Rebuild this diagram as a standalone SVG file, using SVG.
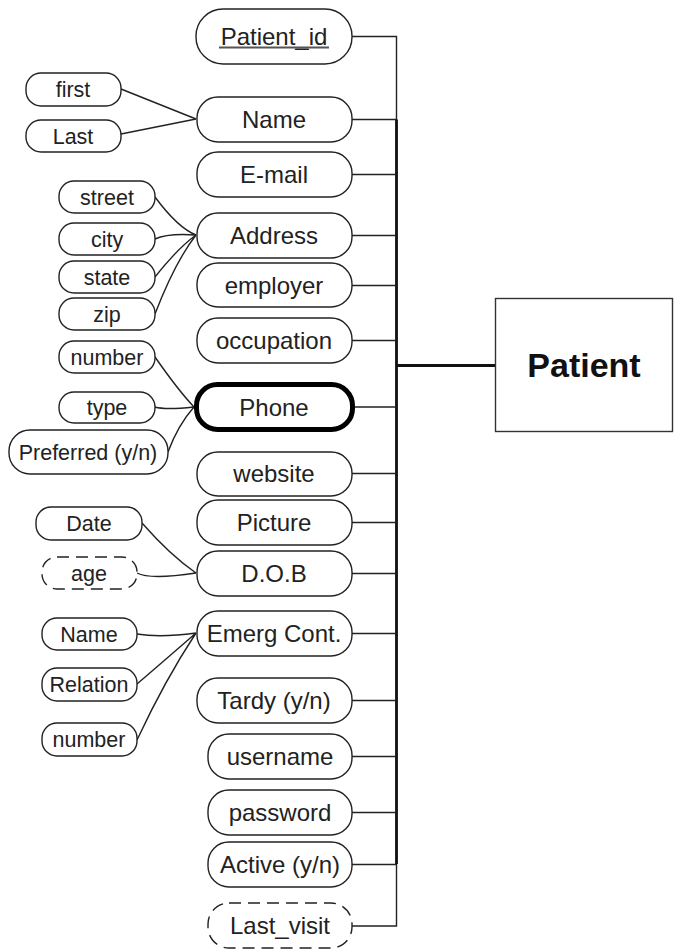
<svg xmlns="http://www.w3.org/2000/svg" width="678" height="952" viewBox="0 0 678 952">
<style>
.a{fill:#fff;stroke:#222;stroke-width:1.4}
.d{stroke-dasharray:12 7}
.t{font-family:"Liberation Sans",Arial,sans-serif;font-size:24px;fill:#222;text-anchor:middle}
.s{font-family:"Liberation Sans",Arial,sans-serif;font-size:21.5px;fill:#222;text-anchor:middle}
.c{fill:none;stroke:#222;stroke-width:1.4}
</style>
<rect width="678" height="952" fill="#fff"/>
<g id="connectors">
<path class="c" d="M352 36.5H396.5V926H352"/>
<path d="M396.5 119.5V864" stroke="#111" stroke-width="2.8" fill="none"/>
<path class="c" d="M352 119.5H396M352 174.5H396M352 235.5H396M352 285.5H396M352 340.5H396M355 407H396M352 473.5H396M352 522.5H396M352 573.5H396M352 633.5H396M352 700.5H396M352 756.5H396M352 812.5H396M352 864.5H396"/>
<path d="M396 365.5H495" stroke="#111" stroke-width="3" fill="none"/>
<path class="c" d="M121 89L196 119M121 134L196 119"/>
<path class="c" d="M155 197Q178 228 196 235M155 239Q168 233 196 235M155 277Q178 248 196 235M155 314Q175 262 196 235"/>
<path class="c" d="M155 357Q178 390 194 407M155 407Q165 410 194 407M168 452Q178 425 194 407"/>
<path class="c" d="M142 523Q170 555 196 573M137 573Q150 580 196 573"/>
<path class="c" d="M137 634Q160 638 196 633M137 684Q165 660 196 633M137 740Q165 680 196 633"/>
</g>
<g id="Patient"><rect x="495.5" y="298.5" width="177" height="133" fill="#fff" stroke="#333" stroke-width="1.4"/><text x="584" y="377" font-family="'Liberation Sans',Arial,sans-serif" font-size="34" font-weight="bold" fill="#111" text-anchor="middle">Patient</text></g>
<g id="Patient_id"><rect class="a" x="196" y="9" width="156" height="55" rx="27"/><text class="t" x="274" y="45">Patient_id</text><line x1="219" y1="47.5" x2="329" y2="47.5" stroke="#555" stroke-width="2"/></g>
<g id="Name"><rect class="a" x="197" y="97" width="155" height="45" rx="21"/><text class="t" x="274" y="128">Name</text></g>
<g id="E-mail"><rect class="a" x="197" y="152" width="155" height="45" rx="21"/><text class="t" x="274" y="183">E-mail</text></g>
<g id="Address"><rect class="a" x="197" y="213" width="155" height="45" rx="21"/><text class="t" x="274" y="244">Address</text></g>
<g id="employer"><rect class="a" x="197" y="263" width="155" height="44" rx="21"/><text class="t" x="274" y="294">employer</text></g>
<g id="occupation"><rect class="a" x="197" y="318" width="155" height="45" rx="21"/><text class="t" x="274" y="349">occupation</text></g>
<g id="Phone"><rect x="196.5" y="384.5" width="156" height="45" rx="21" fill="#fff" stroke="#000" stroke-width="5"/><text class="t" x="274" y="416">Phone</text></g>
<g id="website"><rect class="a" x="197" y="452" width="155" height="44" rx="21"/><text class="t" x="274" y="482">website</text></g>
<g id="Picture"><rect class="a" x="197" y="500" width="155" height="45" rx="21"/><text class="t" x="274" y="531">Picture</text></g>
<g id="DOB"><rect class="a" x="197" y="551" width="155" height="45" rx="21"/><text class="t" x="274" y="582">D.O.B</text></g>
<g id="EmergCont"><rect class="a" x="197" y="611" width="155" height="45" rx="21"/><text class="t" x="274" y="642">Emerg Cont.</text></g>
<g id="Tardy"><rect class="a" x="197" y="678" width="155" height="45" rx="21"/><text class="t" x="274" y="709">Tardy (y/n)</text></g>
<g id="username"><rect class="a" x="208" y="734" width="144" height="45" rx="21"/><text class="t" x="280" y="765">username</text></g>
<g id="password"><rect class="a" x="208" y="790" width="144" height="45" rx="21"/><text class="t" x="280" y="821">password</text></g>
<g id="Active"><rect class="a" x="208" y="842" width="144" height="45" rx="21"/><text class="t" x="280" y="873">Active (y/n)</text></g>
<g id="Last_visit"><rect class="a d" x="208" y="903" width="144" height="45" rx="21"/><text class="t" x="280" y="934">Last_visit</text></g>
<g id="first"><rect class="a" x="26" y="73" width="95" height="33" rx="15"/><text class="s" x="73" y="97">first</text></g>
<g id="Last"><rect class="a" x="26" y="120" width="95" height="32" rx="15"/><text class="s" x="73" y="144">Last</text></g>
<g id="street"><rect class="a" x="59" y="181" width="96" height="32" rx="15"/><text class="s" x="107" y="205">street</text></g>
<g id="city"><rect class="a" x="59" y="223" width="96" height="32" rx="15"/><text class="s" x="107" y="247">city</text></g>
<g id="state"><rect class="a" x="59" y="261" width="96" height="32" rx="15"/><text class="s" x="107" y="285">state</text></g>
<g id="zip"><rect class="a" x="59" y="298" width="96" height="32" rx="15"/><text class="s" x="107" y="322">zip</text></g>
<g id="number"><rect class="a" x="59" y="341" width="96" height="32" rx="15"/><text class="s" x="107" y="365">number</text></g>
<g id="type"><rect class="a" x="59" y="392" width="96" height="31" rx="15"/><text class="s" x="107" y="415">type</text></g>
<g id="Preferred"><rect class="a" x="9" y="430" width="159" height="44" rx="21"/><text class="s" x="88" y="460">Preferred (y/n)</text></g>
<g id="Date"><rect class="a" x="36" y="507" width="106" height="33" rx="15"/><text class="s" x="89" y="531">Date</text></g>
<g id="age"><rect class="a d" x="42" y="557" width="95" height="32" rx="15"/><text class="s" x="89" y="581">age</text></g>
<g id="ECName"><rect class="a" x="42" y="618" width="95" height="32" rx="15"/><text class="s" x="89" y="642">Name</text></g>
<g id="Relation"><rect class="a" x="42" y="668" width="95" height="33" rx="15"/><text class="s" x="89" y="692">Relation</text></g>
<g id="ECnumber"><rect class="a" x="42" y="723" width="95" height="33" rx="15"/><text class="s" x="89" y="747">number</text></g>
</svg>
